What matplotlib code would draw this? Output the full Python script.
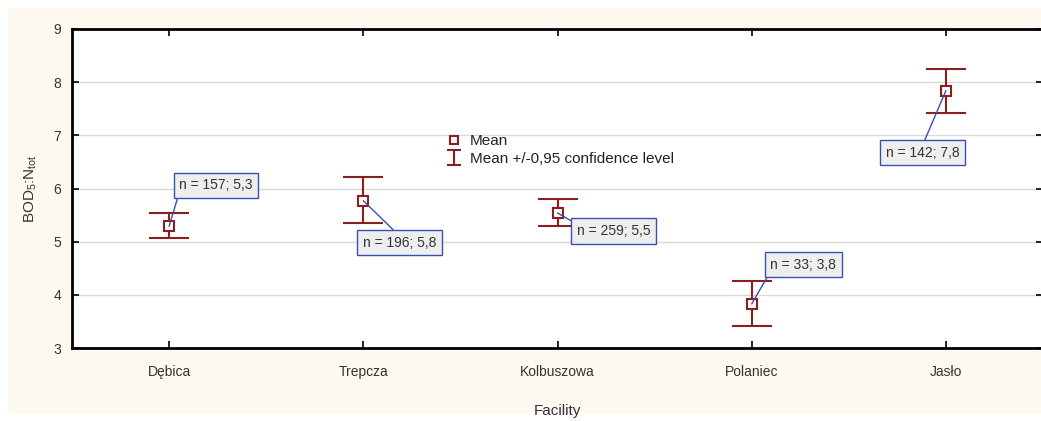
import numpy as np
import matplotlib
matplotlib.use("Agg")
import matplotlib.pyplot as plt
from matplotlib.patches import Rectangle
from matplotlib.lines import Line2D

facilities = ["Dębica", "Trepcza", "Kolbuszowa", "Polaniec", "Jasło"]
means = [5.29, 5.77, 5.54, 3.83, 7.84]
lower = [5.06, 5.35, 5.29, 3.41, 7.42]
upper = [5.53, 6.21, 5.80, 4.26, 8.24]
counts = [157, 196, 259, 33, 142]
yticks = [3, 4, 5, 6, 7, 8, 9]

# annotation offsets (points) of box centre from the mean, and connector anchor on box
ann_offsets = [(33.8, 29.5), (25.9, -30.2), (40.3, -13.0), (37.1, 28.1), (-16.9, -44.6)]
ann_relpos = [(0, 0), (0.5, 1), (0, 1), (0, 0), (0.5, 1)]

plt.rcParams['font.family'] = ['Liberation Sans Narrow', 'Liberation Sans', 'DejaVu Sans']
plt.rcParams['mathtext.default'] = 'regular'

red = "#8b1e1e"
blue = "#3a4fb0"
txt = "#333333"

fig = plt.figure(figsize=(10.41, 4.21), dpi=100)
fig.patch.set_facecolor("white")
bg = Rectangle((8/1041, 8/421), 1 - 8/1041, 1 - 16/421,
               transform=fig.transFigure, facecolor="#fdf9f1",
               edgecolor="none", zorder=-10)
fig.add_artist(bg)

ax = fig.add_axes([72/1041, 1 - 348/421, (1043 - 72)/1041, (348 - 29)/421])
ax.set_facecolor("white")

x = np.arange(len(facilities))
m = np.array(means)
yerr = [m - np.array(lower), np.array(upper) - m]
ax.errorbar(x, m, yerr=yerr, fmt='none', ecolor=red, elinewidth=1.5,
            capsize=14.4, capthick=1.5, zorder=3)
ax.plot(x, m, linestyle='none', marker='s', markersize=7, markerfacecolor='white',
        markeredgecolor=red, markeredgewidth=1.5, zorder=4)

for i, (mv, n) in enumerate(zip(means, counts)):
    label = f"n = {n}; {mv:.1f}".replace('.', ',')
    ax.annotate(label, xy=(i, mv), xytext=ann_offsets[i], textcoords='offset points',
                ha='center', va='center', fontsize=10, color=txt,
                bbox=dict(boxstyle='square,pad=0.4', facecolor='#eeeeee', edgecolor=blue, linewidth=1),
                arrowprops=dict(arrowstyle='-', color=blue, linewidth=1, relpos=ann_relpos[i],
                                shrinkA=0, shrinkB=0),
                zorder=5)

ax.set_xlim(-0.5, len(facilities) - 0.5)
ax.set_ylim(yticks[0], yticks[-1])
ax.set_yticks(yticks)
ax.set_xticks(x)
ax.set_xticklabels(facilities)
ax.grid(axis='y', color='#d9d9d9', linewidth=1)
ax.set_axisbelow(True)
ax.tick_params(direction='in', length=5, width=1.2, top=True, right=True,
               labelsize=10, labelcolor=txt, color='black')
ax.tick_params(axis='x', pad=12)
ax.tick_params(axis='y', pad=8)
for s in ax.spines.values():
    s.set_linewidth(2)
    s.set_color('black')

ax.set_ylabel("BOD$_5$:N$_{tot}$", fontsize=11, color=txt, labelpad=10)
ax.set_xlabel("Facility", fontsize=11, color=txt, labelpad=18)

# legend
h_mean = Line2D([], [], linestyle='none', marker='s', markersize=6, markerfacecolor='white',
                markeredgecolor=red, markeredgewidth=1.5)
eb = ax.errorbar([np.nan], [np.nan], yerr=[[np.nan], [np.nan]], fmt='none', ecolor=red,
                 elinewidth=1.5, capsize=5, capthick=1.5)
leg = ax.legend([h_mean, eb], ["Mean", "Mean +/-0,95 confidence level"],
                loc='upper left', bbox_to_anchor=(0.378, 0.695), frameon=False,
                fontsize=11, handlelength=1.0, handletextpad=0.5, labelspacing=0.25,
                borderpad=0)
for t in leg.get_texts():
    t.set_color('#222222')

fig.savefig("out.png", dpi=100, facecolor=fig.get_facecolor())
